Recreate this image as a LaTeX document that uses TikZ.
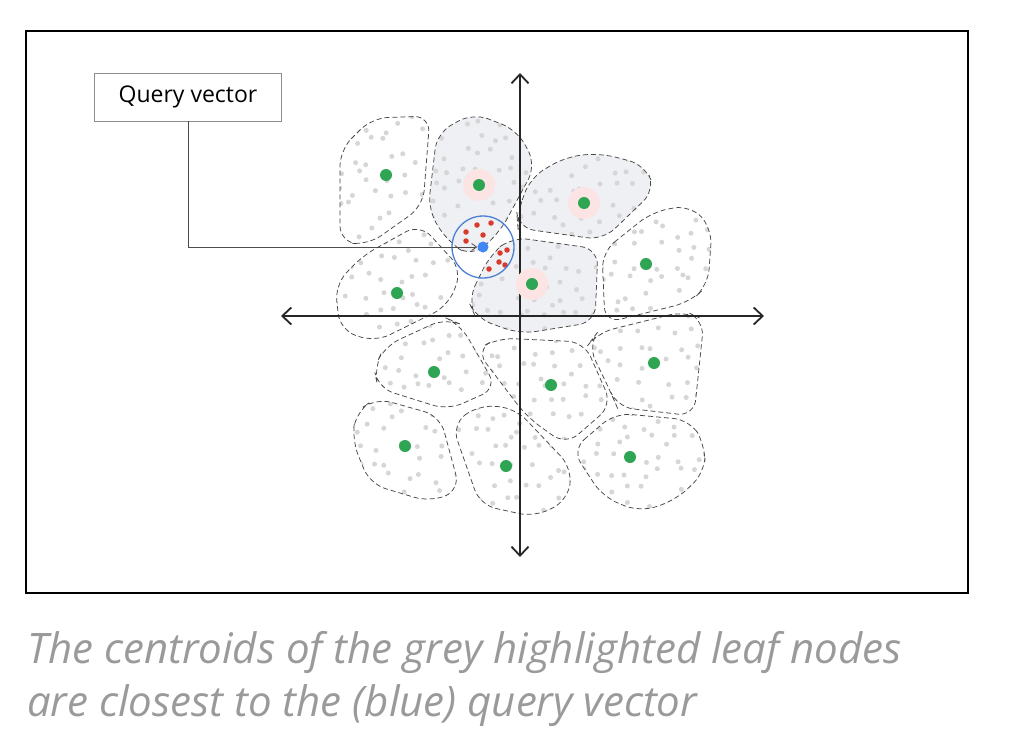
\documentclass[tikz,border=0pt]{standalone}
\usepackage{fontspec}
\setmainfont{Open Sans}
\usetikzlibrary{arrows.meta, positioning}

\definecolor{leafgrey}{HTML}{EEF0F3}
\definecolor{dotgrey}{HTML}{D6D6D6}
\definecolor{cgreen}{HTML}{2EA552}
\definecolor{qblue}{HTML}{4285F4}
\definecolor{ringblue}{HTML}{4A7FD6}
\definecolor{qred}{HTML}{D93A2B}
\definecolor{halo}{HTML}{FCE4E4}
\definecolor{capgrey}{HTML}{9A9A9A}

\tikzset{
  cell/.style={draw=black!72, dash pattern=on 5pt off 3pt, line width=0.75pt, rounded corners=16pt},
  dot/.style={fill=dotgrey},
  centroid/.style={circle, fill=cgreen, inner sep=0pt, minimum size=12pt},
  halodisc/.style={circle, fill=halo, inner sep=0pt, minimum size=32pt},
  reddot/.style={circle, fill=qred, inner sep=0pt, minimum size=5.5pt},
  querybox/.style={draw=black!45, line width=0.8pt, minimum width=187pt, minimum height=48pt, font=\fontsize{23}{27}\selectfont},
  qline/.style={draw=black!70, line width=0.8pt, -{Straight Barb[length=5pt, width=7pt]}},
  axis/.style={draw=black!85, line width=1.8pt, {Straight Barb[length=9pt, width=17pt]}-{Straight Barb[length=9pt, width=17pt]}},
  caption/.style={anchor=base west, inner sep=0pt, text=capgrey, font=\fontsize{42}{50}\selectfont\itshape}
}

\newcommand{\leafcell}[4]{%
  \fill[#1, rounded corners=16pt] #4 -- cycle;
  \begin{scope}
    \clip[rounded corners=16pt] #4 -- cycle;
    \foreach \i in {-6,...,6}
      \foreach \j in {-6,...,6}{
        \pgfmathsetmacro\px{#2+16*\i+6*rand}
        \pgfmathsetmacro\py{#3+16*\j+6*rand}
        \pgfmathtruncatemacro\keep{and(veclen(\px-483,\py-247)>35, rnd>0.12)}
        \ifnum\keep=1 \fill[dot] (\px,\py) circle[radius=2.5pt]; \fi
      }
  \end{scope}
  \draw[cell] #4 -- cycle;}

\begin{document}
\begin{tikzpicture}[x=1pt, y=-1pt]
  \useasboundingbox[fill=white] (0,0) rectangle (1012,744);
  \pgfmathsetseed{17}
  \draw[line width=2pt] (26,31) rectangle (968,593);

  \leafcell{white}{386}{175}{(340,150) -- (372,118) -- (430,116) -- (423,206) -- (368,245) -- (340,242)}
  \leafcell{leafgrey}{479}{185}{(428,210) -- (437,133) -- (473,113) -- (517,130) -- (536,165) -- (500,232) -- (472,257) -- (448,242)}
  \leafcell{leafgrey}{584}{203}{(517,215) -- (530,178) -- (565,157) -- (600,153) -- (645,165) -- (655,190) -- (603,240) -- (518,228)}
  \leafcell{leafgrey}{532}{284}{(468,300) -- (490,255) -- (512,237) -- (598,249) -- (595,322) -- (520,334) -- (476,318)}
  \leafcell{white}{397}{293}{(335,285) -- (362,256) -- (420,224) -- (462,270) -- (448,306) -- (375,342) -- (340,330)}
  \leafcell{white}{646}{264}{(602,252) -- (652,212) -- (690,205) -- (712,228) -- (708,285) -- (690,302) -- (605,323)}
  \leafcell{white}{434}{372}{(374,368) -- (385,346) -- (446,318) -- (460,324) -- (497,388) -- (448,410) -- (378,388)}
  \leafcell{white}{551}{385}{(476,350) -- (498,338) -- (584,342) -- (612,405) -- (566,445) -- (527,417)}
  \leafcell{white}{654}{363}{(588,345) -- (597,333) -- (685,311) -- (704,320) -- (694,416) -- (617,407) -- (612,395)}
  \leafcell{white}{405}{446}{(352,440) -- (356,412) -- (376,398) -- (440,416) -- (460,490) -- (430,502) -- (370,484)}
  \leafcell{white}{506}{466}{(452,425) -- (478,405) -- (515,408) -- (572,468) -- (568,500) -- (535,517) -- (480,505)}
  \leafcell{white}{630}{457}{(572,450) -- (615,413) -- (690,420) -- (705,445) -- (705,472) -- (676,500) -- (640,512) -- (603,497)}

  \coordinate (ytop) at (520,73);
  \coordinate (ybot) at (520,557);
  \coordinate (xleft) at (281,316);
  \coordinate (xright) at (764,316);
  \draw[axis] (ybot) -- (ytop);
  \draw[axis] (xleft) -- (xright);

  \foreach \name/\cx/\cy in {hB/479/185, hC/584/203, hD/532/284}
    \node[halodisc] (\name) at (\cx,\cy) {};
  \foreach \name/\cx/\cy in {cA/386/175, cB/479/185, cC/584/203, cD/532/284, cE/397/293, cF/646/264,
      cG/434/372, cH/551/385, cI/654/363, cJ/405/446, cK/506/466, cL/630/457}
    \node[centroid] (\name) at (\cx,\cy) {};

  \foreach \rx/\ry in {466/232, 477/225, 491/223, 483/235, 466/241, 500/253, 507/250, 499/262, 505/265, 489/269}
    \node[reddot] at (\rx,\ry) {};
  \node[circle, fill=qblue, inner sep=0pt, minimum size=11pt] (qv) at (483,247) {};
  \draw[ringblue, line width=1.3pt] (qv) circle[radius=31pt];

  \node[querybox] (query) at (188,97) {Query vector};
  \draw[qline] (query.south) |- (qv.west);

  \node[caption] (line1) at (27,663) {The centroids of the grey highlighted leaf nodes};
  \node[caption] (line2) at (27,716) {are closest to the (blue) query vector};
\end{tikzpicture}
\end{document}
